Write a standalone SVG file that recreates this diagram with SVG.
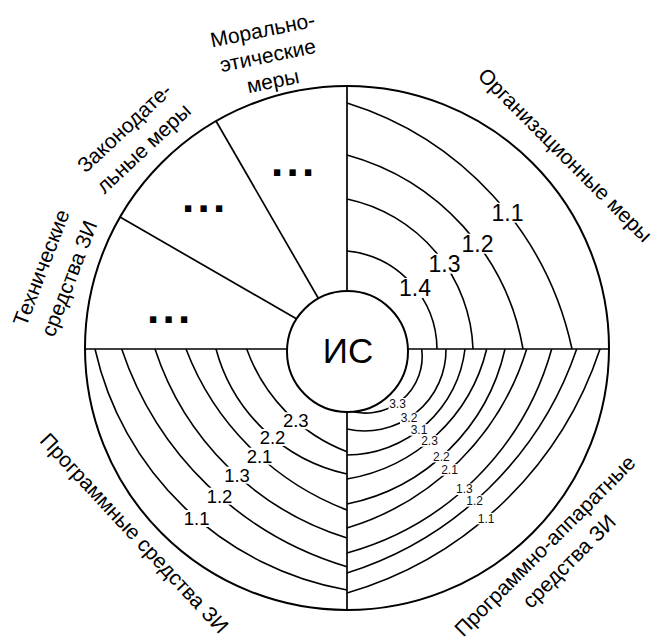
<svg xmlns="http://www.w3.org/2000/svg" width="656" height="640" viewBox="0 0 656 640">
<style>
text{font-family:"Liberation Sans",Arial,sans-serif;fill:#000}
.ln{fill:none;stroke:#000;stroke-width:1.7}
.arc{fill:none;stroke:#000;stroke-width:1.6}
.bg{fill:#fff}
.l1{font-size:23px;text-anchor:middle}
.l2{font-size:18.5px;text-anchor:middle}
.l3{font-size:12px;text-anchor:middle;fill:#111}
.cap{font-size:21px;text-anchor:middle}
.dots{font-size:44px;font-weight:bold;letter-spacing:3.3px}
</style>
<rect width="656" height="640" fill="#fff"/>
<g id="connectors">
<g id="arcs-org">
<path class="arc" d="M347,103 A330.4,330.4 0 0 1 572,349"/>
<path class="arc" d="M347,155 A244.2,244.2 0 0 1 523,349"/>
<path class="arc" d="M347,199 A158.8,158.8 0 0 1 473,349"/>
<path class="arc" d="M347,251 A99.6,99.6 0 0 1 437,349"/>
</g>
<g id="arcs-hw">
<path class="arc" d="M421.7,349 A56.7,56.7 0 0 1 347,410"/>
<path class="arc" d="M446,349 A81.2,81.2 0 0 1 347,429"/>
<path class="arc" d="M465,349 A119.9,119.9 0 0 1 347,455"/>
<path class="arc" d="M486.7,349 A172.8,172.8 0 0 1 347,479"/>
<path class="arc" d="M505,349 A203.8,203.8 0 0 1 347,504"/>
<path class="arc" d="M526.7,349 A269.7,269.7 0 0 1 347,528"/>
<path class="arc" d="M551.7,349 A293.3,293.3 0 0 1 347,553"/>
<path class="arc" d="M576.7,349 A354.7,354.7 0 0 1 347,573"/>
<path class="arc" d="M600,349 A377.8,377.8 0 0 1 347,593"/>
</g>
<g id="arcs-sw">
<path class="arc" d="M347,590 A314.7,314.7 0 0 1 95,349"/>
<path class="arc" d="M347,566.7 A339.4,339.4 0 0 1 121.7,349"/>
<path class="arc" d="M347,538 A293,293 0 0 1 155,349"/>
<path class="arc" d="M347,510 A278.8,278.8 0 0 1 186,349"/>
<path class="arc" d="M347,474 A174.2,174.2 0 0 1 216,349"/>
<path class="arc" d="M347,451.7 A171.7,171.7 0 0 1 246.7,349"/>
</g>
<g id="dividers">
<line class="ln" x1="347" y1="86" x2="347" y2="610"/>
<line class="ln" x1="85" y1="349" x2="609" y2="349"/>
<line class="ln" x1="216" y1="121" x2="347" y2="348"/>
<line class="ln" x1="120" y1="217" x2="347" y2="348"/>
</g>
</g>
<g id="outer-circle">
<circle cx="347" cy="348" r="262" fill="none" stroke="#000" stroke-width="2"/>
</g>
<g id="node-is">
<circle cx="347.5" cy="351.5" r="60.5" fill="#fff" stroke="#000" stroke-width="2"/>
<text x="348" y="363" style="font-size:35px;text-anchor:middle">ИС</text>
</g>
<g id="sector-moral"><text class="dots" x="271" y="176">...</text></g>
<g id="sector-legal"><text class="dots" x="182" y="212">...</text></g>
<g id="sector-tech"><text class="dots" x="147" y="323">...</text></g>
<g id="labels-org">
<rect class="bg" x="490.5" y="202.7" width="34" height="20"/><text class="l1" x="507.5" y="220.7">1.1</text>
<rect class="bg" x="460.5" y="233.7" width="34" height="20"/><text class="l1" x="477.5" y="251.7">1.2</text>
<rect class="bg" x="427.5" y="253.7" width="34" height="20"/><text class="l1" x="444.5" y="271.7">1.3</text>
<rect class="bg" x="398" y="278" width="34" height="20"/><text class="l1" x="415" y="296">1.4</text>
</g>
<g id="labels-sw">
<rect class="bg" x="182.7" y="510" width="28" height="17"/><text class="l2" x="196.7" y="525">1.1</text>
<rect class="bg" x="205.5" y="487.7" width="28" height="17"/><text class="l2" x="219.5" y="502.7">1.2</text>
<rect class="bg" x="223" y="466.7" width="28" height="17"/><text class="l2" x="237" y="481.7">1.3</text>
<rect class="bg" x="245.5" y="447.7" width="28" height="17"/><text class="l2" x="259.5" y="462.7">2.1</text>
<rect class="bg" x="258.5" y="429" width="28" height="17"/><text class="l2" x="272.5" y="444">2.2</text>
<rect class="bg" x="281.8" y="412.3" width="28" height="17"/><text class="l2" x="295.8" y="427.3">2.3</text>
</g>
<g id="labels-hw">
<rect class="bg" x="388.5" y="398" width="18" height="11.5"/><text class="l3" x="397.5" y="407.7">3.3</text>
<rect class="bg" x="400" y="412.5" width="18" height="11.5"/><text class="l3" x="409" y="422.3">3.2</text>
<rect class="bg" x="410" y="424.2" width="18" height="11.5"/><text class="l3" x="419" y="434">3.1</text>
<rect class="bg" x="420.5" y="435.2" width="18" height="11.5"/><text class="l3" x="429.5" y="445">2.3</text>
<rect class="bg" x="432.3" y="450.9" width="18" height="11.5"/><text class="l3" x="441.3" y="460.7">2.2</text>
<rect class="bg" x="440.5" y="464.2" width="18" height="11.5"/><text class="l3" x="449.5" y="474">2.1</text>
<rect class="bg" x="455.3" y="483.5" width="18" height="11.5"/><text class="l3" x="464.3" y="493.3">1.3</text>
<rect class="bg" x="465.7" y="495.2" width="18" height="11.5"/><text class="l3" x="474.7" y="505">1.2</text>
<rect class="bg" x="477.2" y="512.9" width="18" height="11.5"/><text class="l3" x="486.2" y="522.7">1.1</text>
</g>
<g id="title-org"><text class="cap" transform="translate(560,160) rotate(45)">Организационные меры</text></g>
<g id="title-moral"><text class="cap" transform="translate(264,37) rotate(-11.5)"><tspan x="0" y="0">Морально-</tspan><tspan x="0" y="26">этические</tspan><tspan x="0" y="52">меры</tspan></text></g>
<g id="title-legal"><text class="cap" transform="translate(129.3,133) rotate(-43)"><tspan x="0" y="0">Законодате-</tspan><tspan x="0" y="28">льные меры</tspan></text></g>
<g id="title-tech"><text class="cap" transform="translate(47.9,270.3) rotate(-69)"><tspan x="0" y="0">Технические</tspan><tspan x="0" y="30">средства ЗИ</tspan></text></g>
<g id="title-sw"><text class="cap" transform="translate(129,538) rotate(47)">Программные средства ЗИ</text></g>
<g id="title-hw"><text class="cap" transform="translate(574,566.5) rotate(-45)"><tspan x="-6" y="-28">Программно-аппаратные</tspan><tspan x="0" y="0">средства ЗИ</tspan></text></g>
</svg>
